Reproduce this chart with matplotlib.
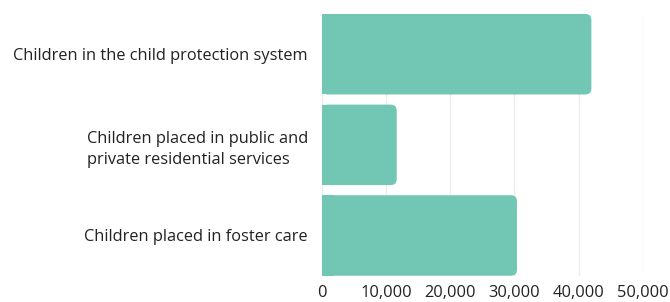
import matplotlib
matplotlib.use("Agg")
import matplotlib.pyplot as plt
from matplotlib.patches import FancyBboxPatch, Rectangle
from matplotlib.ticker import FuncFormatter

categories = ["Children in the child protection system",
              "Children placed in public and\nprivate residential services",
              "Children placed in foster care"]
values = [42000, 11650, 30400]
xticks = [0, 10000, 20000, 30000, 40000, 50000]

color = "#71c7b3"
plt.rcParams['font.family'] = ['Open Sans', 'DejaVu Sans']

W, H = 670, 302
fig = plt.figure(figsize=(W/100, H/100), dpi=100)
ax = fig.add_axes([322/W, 1 - 275.7/H, (642.7-322)/W, (275.7-14)/H])

ypos = list(range(len(categories)))
bh = 0.888
bars = ax.barh(ypos, values, height=bh, color=color, zorder=2)
ax.set_xlim(0, 50000)
ax.set_ylim(len(categories) - 1 + bh/2, -bh/2)

# rounded right corners, square left corners
fig.canvas.draw()
bb = ax.get_window_extent()
xu = 50000 / bb.width
yu = (len(categories) - 1 + bh) / bb.height
r_px = 6
for b in bars:
    x0, y0, w, h = b.get_x(), b.get_y(), b.get_width(), b.get_height()
    p = FancyBboxPatch((x0, y0), w, h,
                       boxstyle=f"round,pad=0,rounding_size={r_px*xu}",
                       mutation_aspect=yu/xu, facecolor=color, edgecolor='none', zorder=2)
    ax.add_patch(p)
    ax.add_patch(Rectangle((x0, y0), min(w, 2*r_px*xu), h,
                           facecolor=color, edgecolor='none', zorder=2))
    b.set_visible(False)

ax.set_xticks(xticks)
ax.xaxis.set_major_formatter(FuncFormatter(lambda v, p: f"{int(v):,}"))
ax.set_yticks(ypos)
ax.set_yticklabels(categories)
for lab in ax.get_yticklabels():
    lab.set_multialignment('left')
    lab.set_linespacing(1.45)
ax.tick_params(axis='both', length=0, labelsize=11.8, colors='#222222')
ax.tick_params(axis='y', pad=10)
ax.tick_params(axis='x', pad=7)
ax.grid(axis='x', color='#ebebeb', linewidth=1, zorder=0)
ax.set_axisbelow(True)
for s in ax.spines.values():
    s.set_visible(False)

fig.savefig("out.png", dpi=100)
